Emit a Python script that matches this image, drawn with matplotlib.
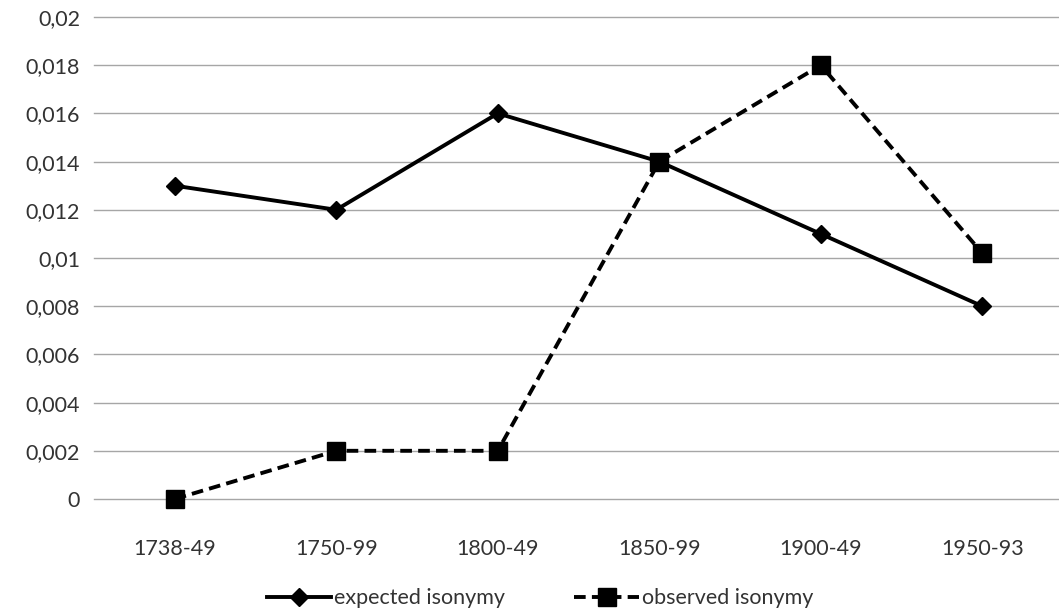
import matplotlib
matplotlib.use("Agg")
import matplotlib.pyplot as plt
from matplotlib.ticker import FuncFormatter, MultipleLocator

plt.rcParams["font.family"] = ["Lato", "DejaVu Sans"]

periods = ["1738-49", "1750-99", "1800-49", "1850-99", "1900-49", "1950-93"]
expected_isonymy = [0.013, 0.012, 0.016, 0.014, 0.011, 0.008]
observed_isonymy = [0.0, 0.002, 0.002, 0.014, 0.018, 0.0102]

fig = plt.figure(figsize=(10.59, 6.14), dpi=100)
ax = fig.add_axes([94 / 1059, 1 - 499 / 614, 1 - 94 / 1059, (499 - 17) / 614])

x = range(len(periods))
ax.plot(x, expected_isonymy, color="black", lw=2.8, marker="D", ms=9,
        label="expected isonymy", zorder=3, clip_on=False)
ax.plot(x, observed_isonymy, color="black", lw=2.8, marker="s", ms=13,
        dashes=(3, 1.6), label="observed isonymy", zorder=3, clip_on=False)

ax.set_xlim(-0.5, 5.475)
ax.set_ylim(0, 0.02)
ax.yaxis.set_major_locator(MultipleLocator(0.002))
ax.yaxis.set_major_formatter(
    FuncFormatter(lambda v, p: "0" if abs(v) < 1e-12 else f"{v:.3f}".rstrip("0").replace(".", ",")))
ax.set_xticks(list(x))
ax.set_xticklabels(periods)

ax.grid(axis="y", color="#a6a6a6", lw=1.0)
for gl in ax.get_ygridlines():
    gl.set_clip_on(False)
ax.set_axisbelow(True)
for s in ax.spines.values():
    s.set_visible(False)
ax.tick_params(axis="both", length=0, labelsize=15.5, colors="#333333")
ax.tick_params(axis="y", pad=10)
ax.tick_params(axis="x", pad=29)

leg = fig.legend(loc="center", bbox_to_anchor=(0.51, 0.026), ncol=2, frameon=False,
                 fontsize=15.5, handlelength=3.0, handletextpad=0.15, columnspacing=3.2)
for t in leg.get_texts():
    t.set_color("#333333")

fig.savefig("out.png", dpi=100)
